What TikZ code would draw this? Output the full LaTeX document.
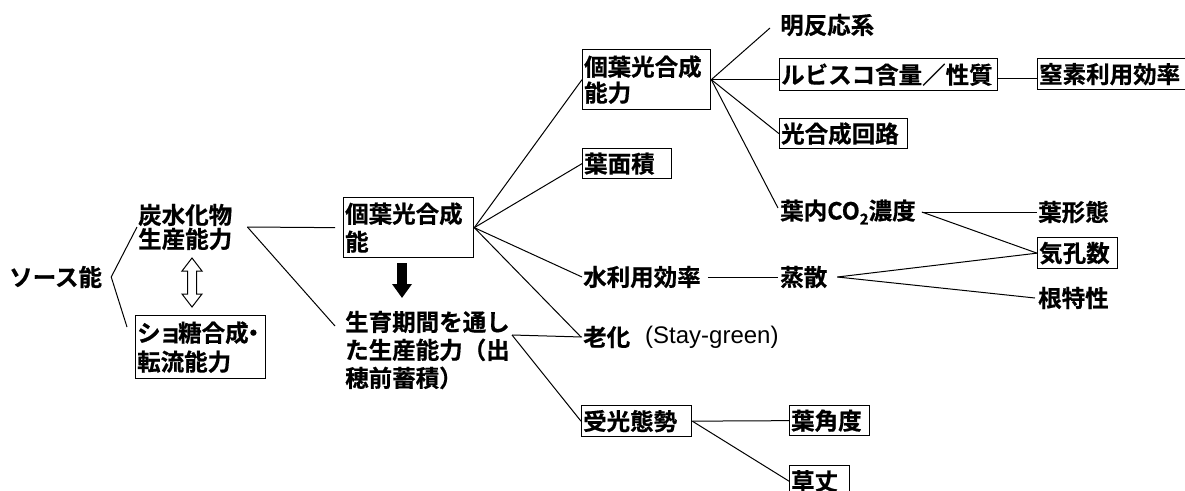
\documentclass[tikz,border=0pt]{standalone}
\usepackage{fontspec}
\setmainfont{Noto Sans CJK JP}[BoldFont={Noto Sans CJK JP Bold},BoldFeatures={FakeBold=0.6}]
\newfontfamily\latfont{Liberation Sans}
\usetikzlibrary{arrows.meta}
\begin{document}
\begin{tikzpicture}[x=1pt,y=-1pt,
  base/.style={font=\fontsize{23.5}{28}\selectfont\bfseries, inner sep=0pt, align=left},
  txt/.style={base, anchor=west},
  bx/.style={base, draw, line width=1.3pt, anchor=north west, inner xsep=1.5pt},
  ln/.style={line width=1pt},
  fat/.style={line width=10pt, -{Triangle[width=19pt,length=14pt]}},
]
\useasboundingbox (0,0) rectangle (1185,490);

% nodes
\node[txt] (src) at (9,277) {ソース能};
\node[txt, font=\fontsize{23.5}{24}\selectfont\bfseries] (tan) at (138,227) {炭水化物\\生産能力};
\node[bx, text width=127, minimum height=63, font=\fontsize{23.5}{29}\selectfont\bfseries] (sho) at (135,315) {シ\kern-2pt ョ\kern-4pt 糖合成\kern-7pt ・\\転流能力};
\node[bx, text width=127, minimum height=60] (kb) at (343,197) {個葉光合成\\能};
\node[txt] (sei) at (345,350) {生育期間を通し\\た生産能力（出\\穂前蓄積）};
\node[bx, text width=125, minimum height=60, font=\fontsize{23.5}{26}\selectfont\bfseries] (kk) at (582,49) {個葉光合成\\能力};
\node[bx, text width=86, minimum height=30] (ym) at (582,148) {葉面積};
\node[txt] (mz) at (583,277) {水利用効率};
\node[txt] (rk) at (583,337) {老化};
\node[txt, font=\latfont\fontsize{24}{28}\selectfont] (sg) at (645,337) {(Stay-green)};
\node[bx, text width=107, minimum height=31] (jk) at (581,405) {受光態勢};
\node[bx, text width=77, minimum height=30] (ykd) at (789,405) {葉角度};
\node[bx, text width=57, minimum height=31] (kt) at (789,465) {草丈};
\node[txt] (mei) at (780,25) {明反応系};
\node[bx, text width=215, minimum height=32] (rb) at (779,58) {ルビスコ含量／性質};
\node[bx, text width=150, minimum height=31] (cs) at (1037,58) {窒素利用効率};
\node[bx, text width=125, minimum height=30] (kg) at (779,118) {光合成回路};
\node[txt] (co) at (780,212) {葉内CO\raisebox{-5pt}{\fontsize{15}{15}\selectfont 2}濃度};
\node[txt] (jo) at (780,277) {蒸散};
\node[txt] (ykt) at (1038,212) {葉形態};
\node[bx, text width=77, minimum height=31] (kos) at (1037,237) {気孔数};
\node[txt] (ne) at (1038,298) {根特性};

% vertices / free ends
\coordinate (srcv) at ([xshift=9]src.east);
\coordinate (srcd) at (127,327);
\coordinate (v1) at ([xshift=15]tan.east);
\coordinate (seiL) at (335,326);
\coordinate (v3) at (512,335);
\coordinate (ba1) at (402,263);
\coordinate (ba2) at (402,298);
\coordinate (v5) at ([xshift=10]jo.east);
\coordinate (v6) at ([xshift=6]co.east);

% connectors
\draw[ln] ([xshift=-1]tan.west) -- (srcv) -- (srcd);
\draw[ln] (v1) -- ([xshift=-8]kb.west);
\draw[ln] (v1) -- (seiL);
\draw[fat] (ba1) -- (ba2);
\draw[line width=1pt] (192,258) -- (202,271) -- (196.5,271) -- (196.5,294) -- (202,294) -- (192,307)
  -- (182,294) -- (187.5,294) -- (187.5,271) -- (182,271) -- cycle;
\draw[ln] (v3) -- ([xshift=-1]rk.west);
\draw[ln] (v3) -- (jk.west);
\draw[ln] (kb.east) -- (kk.west);
\draw[ln] (kb.east) -- (ym.west);
\draw[ln] (kb.east) -- ([xshift=-1]mz.west);
\draw[ln] (kb.east) -- ([xshift=-2]rk.west);
\draw[ln] (kk.east) -- ([xshift=-10,yshift=-3]mei.west);
\draw[ln] (kk.east) -- (kk.east -| rb.west);
\draw[ln] (kk.east) -- (kg.west);
\draw[ln] (kk.east) -- ([xshift=-2,yshift=4]co.west);
\draw[ln] ([yshift=-4]rb.east) -- ([yshift=-4]rb.east -| cs.west);
\draw[ln] ([xshift=7]mz.east) -- ([xshift=-2]jo.west);
\draw[ln] (v5) -- (kos.west);
\draw[ln] (v5) -- ([xshift=-3]ne.west);
\draw[ln] (v6) -- ([xshift=-1]ykt.west);
\draw[ln] (v6) -- (kos.west);
\draw[ln] (jk.east) -- (ykd.west);
\draw[ln] (jk.east) -- (kt.west);
\end{tikzpicture}
\end{document}
